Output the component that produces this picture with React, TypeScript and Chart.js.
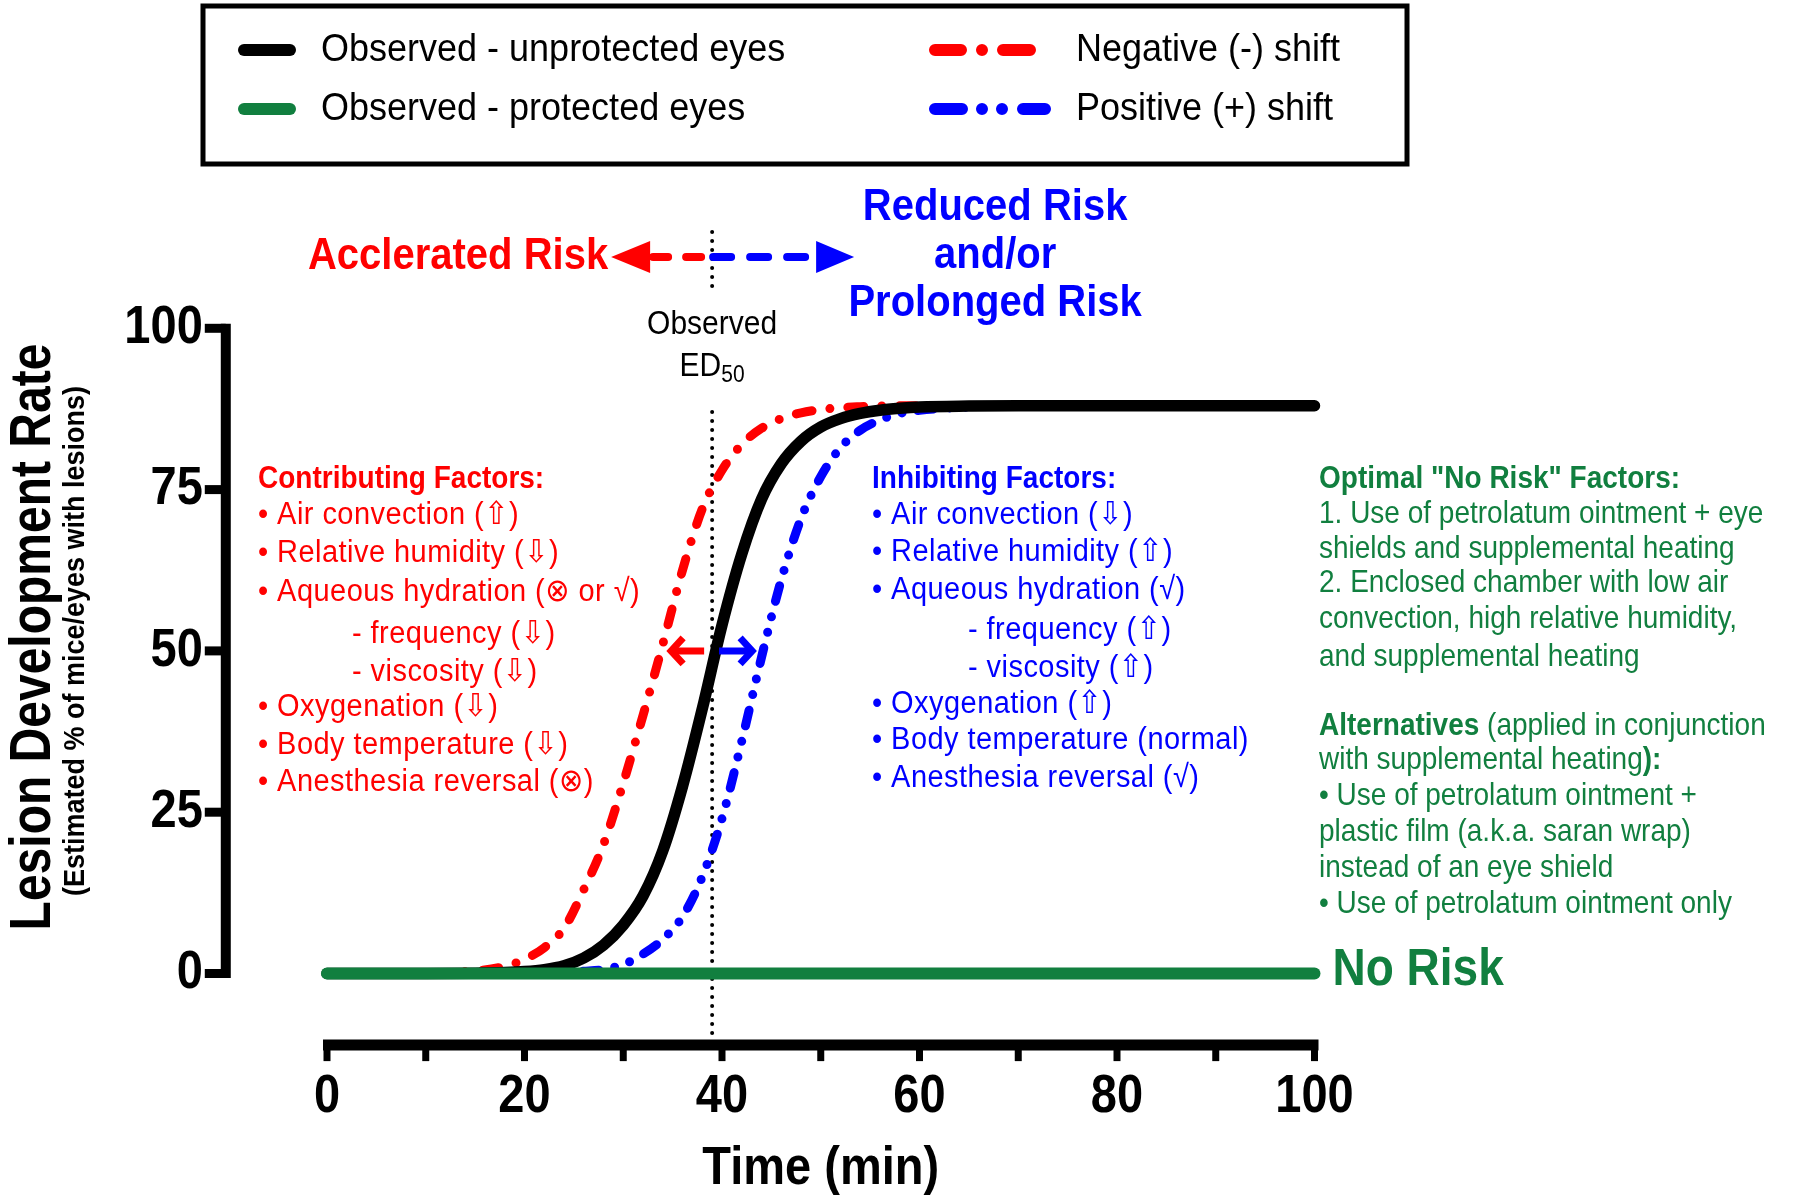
import React, { useEffect, useRef } from 'react';
import { Chart, registerables } from 'chart.js';

Chart.register(...registerables);

// ---------------- data ----------------
const timeMin = [0, 10, 15, 18, 20, 22, 24, 26, 28, 30, 32, 34, 36, 38, 40, 42, 44, 46, 48, 50, 52, 54, 56, 58, 60, 65, 70, 80, 90, 100];
const unprotectedEyes = [0, 0, 0.05, 0.15, 0.3, 0.6, 1.2, 2.4, 4.4, 7.5, 12, 19, 29, 41, 54, 65, 73.5, 79, 82.5, 84.7, 86, 86.8, 87.3, 87.6, 87.8, 87.95, 88, 88, 88, 88];
const protectedEyes = [0, 0, 0, 0, 0, 0, 0, 0, 0, 0, 0, 0, 0, 0, 0, 0, 0, 0, 0, 0, 0, 0, 0, 0, 0, 0, 0, 0, 0, 0];
const negativeShift = [0, 0.05, 0.4, 1.1, 2.2, 4, 7, 13, 20, 29.5, 40, 51, 62.5, 72, 78, 82, 84.5, 86, 86.9, 87.4, 87.7, 87.85, 87.95, 88, 88, 88, 88, 88, 88, 88];
const positiveShift = [0, 0, 0, 0, 0.05, 0.1, 0.2, 0.35, 0.6, 1.4, 3, 5.3, 8.8, 15, 24, 36, 49, 61, 70.5, 77, 81.5, 84.2, 85.8, 86.8, 87.3, 87.8, 88, 88, 88, 88];

const seriesLabels = ['Observed - unprotected eyes', 'Observed - protected eyes', 'Negative (-) shift', 'Positive (+) shift'];

const xTickLabels = [0, 20, 40, 60, 80, 100];
const xMinorTicks = [10, 30, 50, 70, 90];
const yTickLabels = [0, 25, 50, 75, 100];
const observedED50 = 39;

const xTitle = 'Time (min)';
const yTitle = 'Lesion Development Rate';
const ySubTitle = '(Estimated % of mice/eyes with lesions)';

const contributingTitle = 'Contributing Factors:';
const contributingItems = ['• Air convection (⇧)', '• Relative humidity (⇩)', '• Aqueous hydration (⊗ or √)', '- frequency (⇩)', '- viscosity (⇩)', '• Oxygenation (⇩)', '• Body temperature (⇩)', '• Anesthesia reversal (⊗)'];
const inhibitingTitle = 'Inhibiting Factors:';
const inhibitingItems = ['• Air convection (⇩)', '• Relative humidity (⇧)', '• Aqueous hydration (√)', '- frequency (⇧)', '- viscosity (⇧)', '• Oxygenation (⇧)', '• Body temperature (normal)', '• Anesthesia reversal (√)'];
const optimalLines: [string, boolean][][] = [
  [['Optimal "No Risk" Factors:', true]],
  [['1. Use of petrolatum ointment + eye', false]],
  [['shields and supplemental heating', false]],
  [['2. Enclosed chamber with low air', false]],
  [['convection, high relative humidity,', false]],
  [['and supplemental heating', false]],
  [['Alternatives', true], [' (applied in conjunction', false]],
  [['with supplemental heating', false], ['):', true]],
  [['• Use of petrolatum ointment +', false]],
  [['plastic film (a.k.a. saran wrap)', false]],
  [['instead of an eye shield', false]],
  [['• Use of petrolatum ointment only', false]],
];

// ---------------- styles ----------------
const FONT = '"Liberation Sans", Arial, "DejaVu Sans", sans-serif';
const RED = '#FF0000';
const BLUE = '#0000FF';
const GREEN = '#117F3F';
const BLACK = '#000000';
const STRETCH = 1.1;

const pts = (vals: number[]) => vals.map((v, i) => ({ x: timeMin[i], y: v }));

function font(size: number, bold = false) {
  return `${bold ? 'bold ' : ''}${size}px ${FONT}`;
}

function txt(ctx: CanvasRenderingContext2D, s: string, x: number, y: number, size: number, bold: boolean, color: string, align: CanvasTextAlign = 'left', k = STRETCH, spacing = 0) {
  ctx.save();
  ctx.font = font(size, bold);
  (ctx as any).letterSpacing = `${spacing}px`;
  ctx.fillStyle = color;
  ctx.textAlign = align;
  ctx.textBaseline = 'middle';
  ctx.translate(x, y);
  ctx.scale(1, k);
  ctx.fillText(s, 0, 0);
  ctx.restore();
}

function seg(ctx: CanvasRenderingContext2D, x1: number, y1: number, x2: number, y2: number) {
  ctx.beginPath();
  ctx.moveTo(x1, y1);
  ctx.lineTo(x2, y2);
  ctx.stroke();
}

const annotatePlugin = {
  id: 'annotate',
  beforeDatasetsDraw(chart: any) {
    const { ctx, scales } = chart;
    const ex = scales.x.getPixelForValue(observedED50);
    ctx.save();
    ctx.strokeStyle = BLACK;
    ctx.lineWidth = 4;
    ctx.lineCap = 'round';
    ctx.setLineDash([0, 9]);
    seg(ctx, ex, 232, ex, 292);
    seg(ctx, ex, 412, ex, 1036);
    ctx.restore();
  },
  afterDatasetsDraw(chart: any) {
    const { ctx, scales } = chart;
    const xs = scales.x;
    const ys = scales.y;
    const yAxisX = xs.getPixelForValue(-10.25);
    const xAxisY = ys.getPixelForValue(-11.1);
    const x0 = xs.getPixelForValue(0);
    const x100 = xs.getPixelForValue(100);
    const y0 = ys.getPixelForValue(0);
    const y100 = ys.getPixelForValue(100);
    ctx.save();

    // ---- Y axis ----
    ctx.strokeStyle = BLACK;
    ctx.lineCap = 'butt';
    ctx.lineWidth = 10;
    seg(ctx, yAxisX, y100 - 4.5, yAxisX, y0 + 4.5);
    ctx.lineWidth = 9;
    yTickLabels.forEach((v) => {
      const py = ys.getPixelForValue(v);
      seg(ctx, yAxisX - 21, py, yAxisX, py);
      txt(ctx, String(v), yAxisX - 23, py, 47, true, BLACK, 'right', 1.15);
    });

    // ---- X axis ----
    ctx.lineWidth = 11;
    seg(ctx, x0 - 4, xAxisY, x100 + 4, xAxisY);
    ctx.lineWidth = 7;
    [...xTickLabels, ...xMinorTicks].forEach((v) => {
      const px = xs.getPixelForValue(v);
      seg(ctx, px, xAxisY, px, xAxisY + 16);
    });
    xTickLabels.forEach((v) => {
      const px = xs.getPixelForValue(v);
      txt(ctx, String(v), px, xAxisY + 52, 47, true, BLACK, 'center', 1.15);
    });
    txt(ctx, xTitle, (x0 + x100) / 2, 1169, 47, true, BLACK, 'center', 1.15);

    // ---- Y titles ----
    ctx.save();
    ctx.translate(34, 637);
    ctx.rotate(-Math.PI / 2);
    txt(ctx, yTitle, 0, 0, 48, true, BLACK, 'center', 1.2);
    ctx.restore();
    ctx.save();
    ctx.translate(76, 641);
    ctx.rotate(-Math.PI / 2);
    txt(ctx, ySubTitle, 0, 0, 27, true, BLACK, 'center', 1.12);
    ctx.restore();

    // ---- ED50 labels ----
    const ex = xs.getPixelForValue(observedED50);
    txt(ctx, 'Observed', ex, 325, 30, false, BLACK, 'center');
    ctx.font = font(30);
    const wED = ctx.measureText('ED').width;
    ctx.font = font(21);
    const w50 = ctx.measureText('50').width;
    const edLeft = ex - (wED + w50) / 2;
    txt(ctx, 'ED', edLeft, 367, 30, false, BLACK, 'left');
    txt(ctx, '50', edLeft + wED, 376, 21, false, BLACK, 'left');

    // ---- top risk arrows ----
    const ay = 257;
    ctx.lineCap = 'round';
    ctx.lineWidth = 8;
    ctx.strokeStyle = RED;
    ctx.setLineDash([15, 18]);
    seg(ctx, ex - 11, ay, ex - 60, ay);
    ctx.setLineDash([]);
    ctx.fillStyle = RED;
    ctx.beginPath();
    ctx.moveTo(ex - 101, ay);
    ctx.lineTo(ex - 62, ay - 16);
    ctx.lineTo(ex - 62, ay + 16);
    ctx.closePath();
    ctx.fill();
    ctx.strokeStyle = BLUE;
    ctx.setLineDash([18, 19]);
    seg(ctx, ex + 1, ay, ex + 104, ay);
    ctx.setLineDash([]);
    ctx.fillStyle = BLUE;
    ctx.beginPath();
    ctx.moveTo(ex + 142, ay);
    ctx.lineTo(ex + 104, ay - 16);
    ctx.lineTo(ex + 104, ay + 16);
    ctx.closePath();
    ctx.fill();
    txt(ctx, 'Acclerated Risk', ex - 104, ay, 40, true, RED, 'right');
    txt(ctx, 'Reduced Risk', ex + 283, 208, 40, true, BLUE, 'center');
    txt(ctx, 'and/or', ex + 283, 256, 40, true, BLUE, 'center');
    txt(ctx, 'Prolonged Risk', ex + 283, 304, 40, true, BLUE, 'center');

    // ---- small arrows at 50% ----
    const my = ys.getPixelForValue(50);
    const arrow = (tail: number, tip: number, color: string) => {
      const d = Math.sign(tail - tip);
      ctx.strokeStyle = color;
      ctx.lineWidth = 7;
      ctx.lineCap = 'butt';
      ctx.lineJoin = 'miter';
      seg(ctx, tail, my, tip + d * 3, my);
      ctx.beginPath();
      ctx.moveTo(tip + d * 14, my - 13);
      ctx.lineTo(tip + d * 2, my);
      ctx.lineTo(tip + d * 14, my + 13);
      ctx.stroke();
    };
    arrow(ex - 8, ex - 43, RED);
    arrow(ex + 7, ex + 42, BLUE);

    // ---- factor text blocks ----
    const redY = [480, 515, 553, 592, 634, 672, 707, 745, 782];
    txt(ctx, contributingTitle, 258, redY[0], 28, true, RED);
    contributingItems.forEach((s, i) => {
      const sub = s.startsWith('-');
      txt(ctx, s, sub ? 352 : 258, redY[i + 1], 29, false, RED, 'left', STRETCH, 0.45);
    });
    const blueY = [480, 515, 552, 590, 630, 668, 704, 740, 778];
    txt(ctx, inhibitingTitle, 872, blueY[0], 28, true, BLUE);
    inhibitingItems.forEach((s, i) => {
      const sub = s.startsWith('-');
      txt(ctx, s, sub ? 968 : 872, blueY[i + 1], 29, false, BLUE, 'left', STRETCH, 0.45);
    });
    const greenY = [480, 515, 550, 584, 620, 658, 727, 761, 797, 833, 869, 905];
    optimalLines.forEach((runs, i) => {
      let cx = 1319;
      runs.forEach(([s, b]) => {
        txt(ctx, s, cx, greenY[i], 28, b, GREEN);
        ctx.font = font(28, b);
        (ctx as any).letterSpacing = '0px';
        cx += ctx.measureText(s).width;
      });
    });
    txt(ctx, 'No Risk', x100 + 18, y0 - 3, 46, true, GREEN, 'left', 1.12);

    // ---- legend ----
    const ds = chart.data.datasets;
    ctx.setLineDash([]);
    ctx.strokeStyle = BLACK;
    ctx.lineWidth = 5;
    ctx.lineCap = 'butt';
    ctx.strokeRect(203, 6, 1204, 158);
    const legendRows = [50, 109];
    const drawSample = (idx: number, col: number, xa: number, xb: number, yy: number, dash: number[]) => {
      ctx.strokeStyle = ds[idx].borderColor;
      ctx.lineWidth = 12;
      ctx.lineCap = 'round';
      ctx.setLineDash(dash);
      seg(ctx, xa, yy, xb, yy);
      ctx.setLineDash([]);
      txt(ctx, ds[idx].label, col, yy, 36, false, BLACK);
    };
    drawSample(1, 321, 244, 290, legendRows[0], []);
    drawSample(0, 321, 244, 290, legendRows[1], []);
    drawSample(2, 1076, 935, 1030, legendRows[0], [26, 21, 0, 21, 27]);
    drawSample(3, 1076, 935, 1045, legendRows[1], [27, 20, 0, 20, 0, 21, 22]);

    ctx.restore();
  },
};

export default function App() {
  const ref = useRef<HTMLCanvasElement>(null);
  useEffect(() => {
    const canvas = ref.current;
    if (!canvas) return;
    const chart = new Chart(canvas, {
      type: 'line',
      data: {
        datasets: [
          {
            label: seriesLabels[1],
            data: pts(protectedEyes),
            borderColor: GREEN,
            borderWidth: 12,
            borderCapStyle: 'round',
            clip: false,
          },
          {
            label: seriesLabels[0],
            data: pts(unprotectedEyes),
            borderColor: BLACK,
            borderWidth: 11.5,
            borderCapStyle: 'round',
            cubicInterpolationMode: 'monotone',
            clip: false,
          },
          {
            label: seriesLabels[2],
            data: pts(negativeShift),
            borderColor: RED,
            borderWidth: 9,
            borderCapStyle: 'round',
            borderDash: [16, 18, 0, 18],
            cubicInterpolationMode: 'monotone',
            clip: false,
          },
          {
            label: seriesLabels[3],
            data: pts(positiveShift),
            borderColor: BLUE,
            borderWidth: 9,
            borderCapStyle: 'round',
            borderDash: [16, 16, 0, 16, 0, 16],
            cubicInterpolationMode: 'monotone',
            clip: false,
          },
        ] as any,
      },
      options: {
        animation: false,
        responsive: false,
        devicePixelRatio: 1,
        layout: { padding: { left: 327, right: 485.5, top: 328.3, bottom: 226.5 } },
        elements: { point: { radius: 0 }, line: { fill: false } },
        scales: {
          x: { type: 'linear', min: 0, max: 100, display: false },
          y: { type: 'linear', min: 0, max: 100, display: false },
        },
        plugins: { legend: { display: false }, tooltip: { enabled: false } },
        events: [],
      } as any,
      plugins: [annotatePlugin],
    });
    return () => chart.destroy();
  }, []);
  return (
    <div style={{ position: 'absolute', left: 0, top: 0, width: 1800, height: 1200, background: '#ffffff' }}>
      <canvas ref={ref} width={1800} height={1200} style={{ width: 1800, height: 1200, display: 'block' }} />
    </div>
  );
}
